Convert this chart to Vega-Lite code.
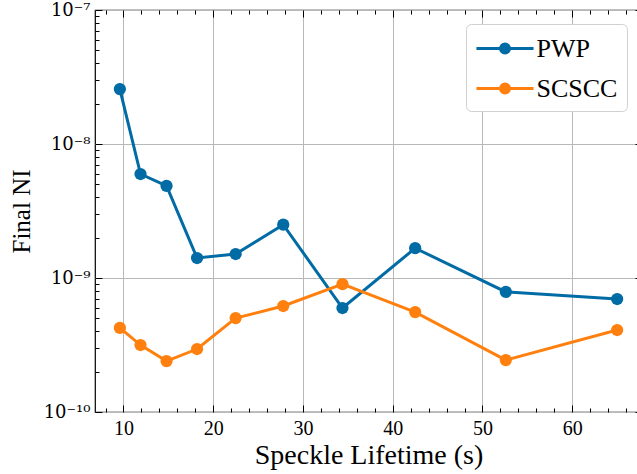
{
  "$schema": "https://vega.github.io/schema/vega-lite/v6.json",
  "width": 547,
  "height": 402,
  "autosize": "none",
  "padding": {"left": 95, "top": 10, "right": 0, "bottom": 62},
  "background": "white",
  "config": {
    "view": {"stroke": "black", "strokeWidth": 1.2},
    "axis": {
      "labelFont": "Liberation Serif",
      "titleFont": "Liberation Serif",
      "domain": false,
      "labelColor": "black",
      "titleColor": "black",
      "titleFontWeight": "normal",
      "tickColor": "black",
      "tickWidth": 1
    }
  },
  "data": {
    "values": [
      {"method": "PWP", "t": 9.6, "ni": 2.57e-8},
      {"method": "PWP", "t": 11.9, "ni": 5.97e-9},
      {"method": "PWP", "t": 14.8, "ni": 4.87e-9},
      {"method": "PWP", "t": 18.2, "ni": 1.41e-9},
      {"method": "PWP", "t": 22.5, "ni": 1.51e-9},
      {"method": "PWP", "t": 27.8, "ni": 2.5e-9},
      {"method": "PWP", "t": 34.4, "ni": 5.97e-10},
      {"method": "PWP", "t": 42.5, "ni": 1.67e-9},
      {"method": "PWP", "t": 52.6, "ni": 7.87e-10},
      {"method": "PWP", "t": 65.0, "ni": 6.97e-10},
      {"method": "SCSCC", "t": 9.6, "ni": 4.24e-10},
      {"method": "SCSCC", "t": 11.9, "ni": 3.16e-10},
      {"method": "SCSCC", "t": 14.8, "ni": 2.4e-10},
      {"method": "SCSCC", "t": 18.2, "ni": 2.95e-10},
      {"method": "SCSCC", "t": 22.5, "ni": 5.02e-10},
      {"method": "SCSCC", "t": 27.8, "ni": 6.18e-10},
      {"method": "SCSCC", "t": 34.4, "ni": 9.0e-10},
      {"method": "SCSCC", "t": 42.5, "ni": 5.57e-10},
      {"method": "SCSCC", "t": 52.6, "ni": 2.44e-10},
      {"method": "SCSCC", "t": 65.0, "ni": 4.09e-10}
    ]
  },
  "layer": [
    {
      "mark": {"type": "line", "strokeWidth": 3},
      "encoding": {
        "x": {
          "field": "t", "type": "quantitative",
          "scale": {"domain": [6.83, 67.77], "nice": false, "zero": false},
          "axis": {
            "orient": "bottom", "title": "Speckle Lifetime (s)", "titleFontSize": 28, "titlePadding": 3,
            "values": [10, 20, 30, 40, 50, 60], "ticks": false, "labelFontSize": 20, "labelPadding": 6,
            "grid": true, "gridColor": "#b8b8b8", "gridWidth": 1
          }
        },
        "y": {
          "field": "ni", "type": "quantitative",
          "scale": {"type": "log", "domain": [1e-10, 1e-7], "nice": false},
          "axis": {
            "orient": "left", "title": "Final NI", "titleFontSize": 25, "titlePadding": 9,
            "values": [1e-10, 1e-9, 1e-8, 1e-7],
            "labelExpr": "datum.value >= 5e-8 ? '10⁻⁷' : datum.value >= 5e-9 ? '10⁻⁸' : datum.value >= 5e-10 ? '10⁻⁹' : '10⁻¹⁰'",
            "ticks": false, "labelFont": "DejaVu Serif", "labelFontSize": 18, "labelPadding": 5,
            "grid": true, "gridColor": "#b8b8b8", "gridWidth": 1
          }
        },
        "color": {
          "field": "method", "type": "nominal",
          "scale": {"domain": ["PWP", "SCSCC"], "range": ["#006BA4", "#FF800E"]},
          "legend": {
            "title": null, "orient": "none", "legendX": 371, "legendY": 14,
            "labelFont": "Liberation Serif", "labelFontSize": 26, "labelColor": "black", "labelLimit": 300,
            "symbolType": "M-2.04,0L2.04,0M-0.32,0A0.32,0.32,0,1,1,0.32,0A0.32,0.32,0,1,1,-0.32,0Z",
            "symbolSize": 784, "symbolStrokeWidth": 3, "symbolOffset": 14.5,
            "labelOffset": 16, "rowPadding": 11, "padding": 9,
            "strokeColor": "#d0d0d0", "fillColor": "white", "cornerRadius": 5,
            "encode": {"symbols": {"update": {"fill": {"scale": "color", "field": "value"}, "stroke": {"scale": "color", "field": "value"}}}}
          }
        }
      }
    },
    {
      "mark": {"type": "point", "filled": true, "size": 150, "opacity": 1},
      "encoding": {
        "x": {
          "field": "t", "type": "quantitative",
          "axis": {"orient": "bottom", "values": [10, 20, 30, 40, 50, 60], "labels": false, "title": null, "grid": false, "tickSize": -7}
        },
        "y": {
          "field": "ni", "type": "quantitative", "scale": {"type": "log"},
          "axis": {"orient": "left", "values": [1e-10, 1e-9, 1e-8, 1e-7], "labels": false, "title": null, "grid": false, "tickSize": -7}
        },
        "color": {"field": "method", "type": "nominal", "legend": null}
      }
    },
    {
      "mark": {"type": "point", "opacity": 0},
      "encoding": {
        "x": {
          "field": "t", "type": "quantitative",
          "axis": {"orient": "bottom", "values": [8, 12, 14, 16, 18, 22, 24, 26, 28, 32, 34, 36, 38, 42, 44, 46, 48, 52, 54, 56, 58, 62, 64, 66], "labels": false, "title": null, "grid": false, "tickSize": -4}
        },
        "y": {
          "field": "ni", "type": "quantitative", "scale": {"type": "log"},
          "axis": {"orient": "left", "values": [2e-10, 3e-10, 4e-10, 5e-10, 6e-10, 7e-10, 8e-10, 9e-10, 2e-9, 3e-9, 4e-9, 5e-9, 6e-9, 7e-9, 8e-9, 9e-9, 2e-8, 3e-8, 4e-8, 5e-8, 6e-8, 7e-8, 8e-8, 9e-8], "labels": false, "title": null, "grid": false, "tickSize": -4}
        }
      }
    },
    {
      "mark": {"type": "point", "opacity": 0},
      "encoding": {
        "x": {
          "field": "t", "type": "quantitative",
          "axis": {"orient": "top", "values": [10, 20, 30, 40, 50, 60], "labels": false, "title": null, "grid": false, "tickSize": -7}
        },
        "y": {
          "field": "ni", "type": "quantitative", "scale": {"type": "log"},
          "axis": {"orient": "right", "values": [1e-10, 1e-9, 1e-8, 1e-7], "labels": false, "title": null, "grid": false, "tickSize": -7}
        }
      }
    },
    {
      "mark": {"type": "point", "opacity": 0},
      "encoding": {
        "x": {
          "field": "t", "type": "quantitative",
          "axis": {"orient": "top", "values": [8, 12, 14, 16, 18, 22, 24, 26, 28, 32, 34, 36, 38, 42, 44, 46, 48, 52, 54, 56, 58, 62, 64, 66], "labels": false, "title": null, "grid": false, "tickSize": -4}
        },
        "y": {
          "field": "ni", "type": "quantitative", "scale": {"type": "log"},
          "axis": {"orient": "right", "values": [2e-10, 3e-10, 4e-10, 5e-10, 6e-10, 7e-10, 8e-10, 9e-10, 2e-9, 3e-9, 4e-9, 5e-9, 6e-9, 7e-9, 8e-9, 9e-9, 2e-8, 3e-8, 4e-8, 5e-8, 6e-8, 7e-8, 8e-8, 9e-8], "labels": false, "title": null, "grid": false, "tickSize": -4}
        }
      }
    }
  ],
  "resolve": {"axis": {"x": "independent", "y": "independent"}}
}
